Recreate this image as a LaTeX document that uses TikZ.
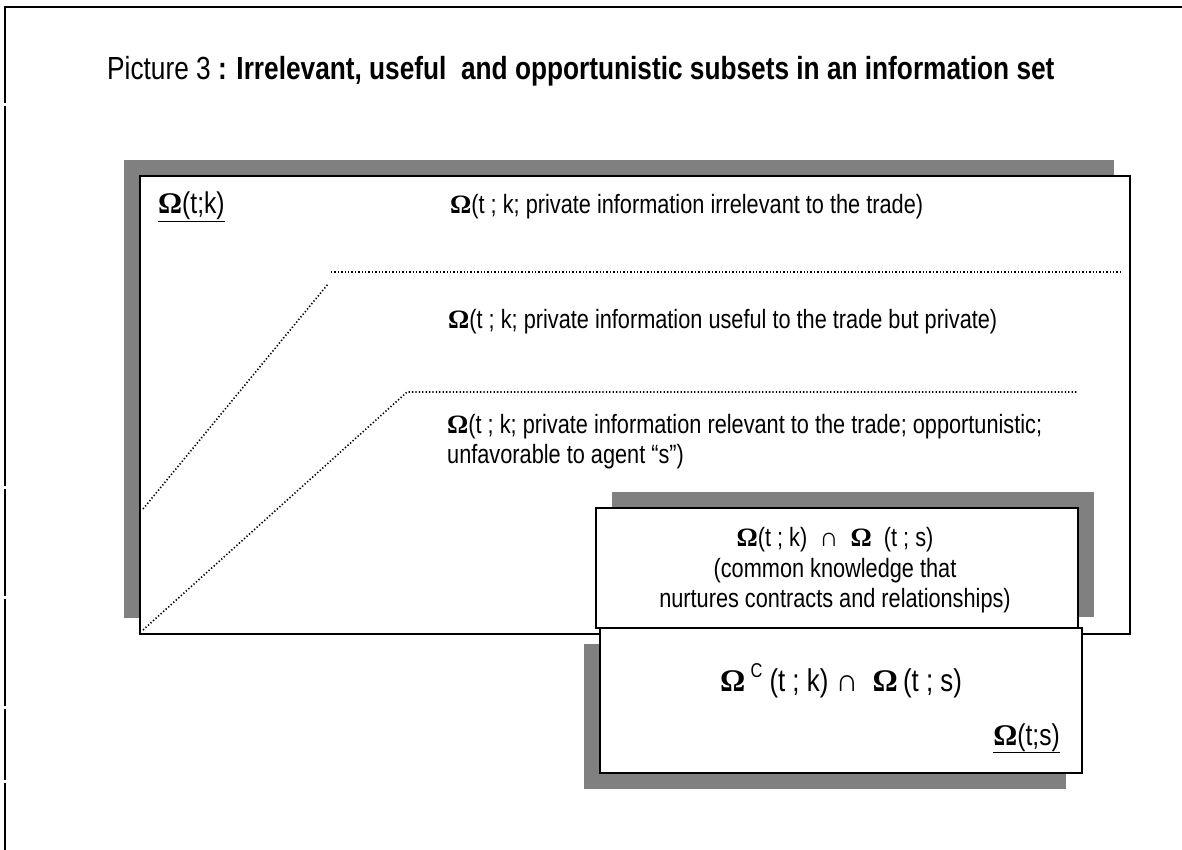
\documentclass[tikz,border=0pt]{standalone}
\usepackage{fontspec}
\setmainfont{Liberation Sans}[FakeStretch=0.82]
\newfontfamily\omf{Liberation Serif}
\definecolor{shadowgray}{RGB}{128,128,128}
\newcommand{\Om}{{\omf\bfseries Ω}}
\newcommand{\capsym}{{\omf ∩}}
\begin{document}
\begin{tikzpicture}[x=1pt,y=-1pt,
  frame/.style={line width=2pt},
  shade/.style={fill=shadowgray},
  box/.style={draw, line width=1.8pt, fill=white, inner sep=0pt, outer sep=0pt, anchor=north west},
  sepline/.style={line width=1.6pt, dash pattern=on 1.3pt off 2.1pt},
  txt/.style={anchor=base west, inner sep=0pt, font=\fontsize{26.5}{31}\selectfont},
  ctxt/.style={anchor=base, inner sep=0pt, font=\fontsize{26.5}{31}\selectfont},
  lbl/.style={inner sep=0pt, font=\fontsize{30}{34}\selectfont}]
\useasboundingbox (0,0) rectangle (1182,850);
% outer frame (left edge shows small breaks)
\coordinate (fa) at (5,103);
\coordinate (fb) at (5,7);
\coordinate (fc) at (1182,7);
\draw[frame] (fa) -- (fb) -- (fc);
\coordinate (g1a) at (5,106);
\coordinate (g1b) at (5,486);
\coordinate (g2a) at (5,489);
\coordinate (g2b) at (5,596);
\coordinate (g3a) at (5,599);
\coordinate (g3b) at (5,706);
\coordinate (g4a) at (5,709);
\coordinate (g4b) at (5,780);
\coordinate (g5a) at (5,783);
\coordinate (g5b) at (5,850);
\draw[frame] (g1a) -- (g1b);
\draw[frame] (g2a) -- (g2b);
\draw[frame] (g3a) -- (g3b);
\draw[frame] (g4a) -- (g4b);
\draw[frame] (g5a) -- (g5b);
% title
\node[anchor=base west, inner sep=0pt, font=\fontsize{32}{36}\selectfont] (title) at (107,80)
  {Picture 3 \textbf{: Irrelevant, useful\ \ and opportunistic subsets in an information set}};
% main box
\fill[shade] (124,160) rectangle (1114,618);
\node[box, minimum width=990pt, minimum height=458pt] (main) at (140,176) {};
% separators
\coordinate (u1) at (143,509);
\coordinate (u2) at (328,284);
\coordinate (u3) at (331,272);
\coordinate (u4) at (1123,272);
\coordinate (l1) at (143,630);
\coordinate (l2) at (407,392);
\coordinate (l3) at (1078,392);
\draw[sepline] (u1) -- (u2);
\draw[sepline] (u3) -- (u4);
\draw[sepline] (l1) -- (l2) -- (l3);
% texts
\node[lbl, anchor=base west] (omk) at (158,214) {\underline{\Om(t;k)}};
\node[txt] (irr) at (450,214) {\Om(t ; k; private information irrelevant to the trade)};
\node[txt] (use) at (448,328) {\Om(t ; k; private information useful to the trade but private)};
\node[txt] (opp1) at (447,433) {\Om(t ; k; private information relevant to the trade; opportunistic;};
\node[txt] (opp2) at (447,463) {unfavorable to agent “s”)};
% box 2
\fill[shade] (612,492) rectangle (1094,617);
\node[box, minimum width=482pt, minimum height=120pt] (common) at (596,508) {};
\node[ctxt] (c1) at (835,546) {\Om(t ; k)\ \ \capsym\ \ \Om\ \ (t ; s)};
\node[ctxt] (c2) at (835,577) {(common knowledge that};
\node[ctxt] (c3) at (835,607) {nurtures contracts and relationships)};
% box 3
\fill[shade] (584,644) rectangle (1066,789);
\node[box, minimum width=482pt, minimum height=145pt] (comp) at (600,628) {};
\node[anchor=base, inner sep=0pt, font=\fontsize{31.5}{35}\selectfont] (d1) at (841,691)
  {\Om\,\raisebox{0.42em}{\fontsize{20}{22}\selectfont C} (t ; k) \capsym\ \ \Om\,(t ; s)};
\node[lbl, anchor=base east] (oms) at (1060,745) {\underline{\Om(t;s)}};
\end{tikzpicture}
\end{document}
